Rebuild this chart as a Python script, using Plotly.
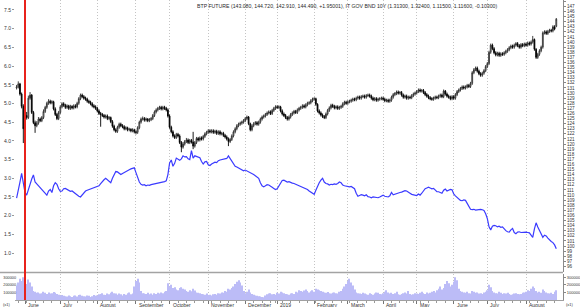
import pandas as pd
import plotly.graph_objects as go

# ---------------- data ----------------
START = "2018-05-25"
HOLIDAYS = ["2018-12-25", "2018-12-26", "2019-01-01", "2019-04-19", "2019-04-22", "2019-05-01"]
MARKER_DATE = "2018-06-01"

TITLE = ("BTP FUTURE (143.080, 144.720, 142.910, 144.490, +1.95001), "
         "IT GOV BND 10Y (1.31300, 1.32400, 1.11500, 1.11600, -0.10300)")

OPEN = [
131.0, 131.2, 131.8, 129.8, 127.4, 123.0, 125.6, 125.2, 129.0, 129.6,
126.2, 124.2, 123.6, 124.1, 124.9, 124.6, 125.2, 126.4, 127.2, 128.0,
128.4, 128.1, 128.3, 126.9, 125.8, 125.0, 126.2, 127.3, 127.9, 127.6,
127.2, 127.5, 127.0, 127.4, 127.1, 127.5, 127.3, 128.0, 128.9, 129.6,
129.3, 129.0, 128.8, 128.4, 128.2, 127.9, 127.5, 127.3, 127.0, 126.5,
126.0, 125.8, 125.6, 125.3, 125.5, 125.0, 125.2, 124.4, 123.5, 122.8,
122.5, 123.3, 123.9, 123.6, 123.4, 123.0, 123.2, 122.8, 122.9, 122.6,
122.8, 122.4, 122.3, 123.2, 124.3, 124.9, 125.0, 124.7, 124.9, 124.6,
124.8, 125.0, 125.6, 126.3, 126.7, 127.0, 127.2, 126.9, 127.2, 127.0,
126.7, 125.5, 123.3, 122.4, 121.6, 121.3, 121.9, 121.6, 120.3, 119.4,
120.0, 120.5, 120.8, 120.3, 120.7, 120.4, 119.6, 120.3, 121.1, 120.8,
121.2, 121.0, 121.5, 122.0, 122.3, 122.6, 122.4, 122.6, 122.3, 122.5,
122.1, 122.4, 122.0, 122.1, 121.7, 121.4, 121.0, 120.5, 120.9, 121.6,
122.4, 123.0, 123.6, 123.9, 124.1, 124.3, 124.6, 125.0, 125.3, 124.0,
122.8, 123.6, 124.0, 124.2, 123.9, 124.3, 124.9, 125.3, 125.5, 125.8,
126.1, 126.3, 126.0, 126.6, 127.0, 127.3, 127.2, 127.3, 126.5, 125.9,
125.6, 125.2, 124.9, 125.3, 125.8, 126.1, 126.4, 126.2, 126.7, 127.0,
127.2, 127.5, 127.3, 127.7, 128.0, 128.1, 128.5, 128.8, 128.9, 127.8,
126.5, 126.1, 125.7, 125.4, 125.2, 125.9, 126.6, 127.1, 127.6, 127.4,
127.1, 127.3, 127.0, 127.2, 127.4, 127.9, 128.2, 128.0, 128.3, 128.4,
128.6, 128.8, 128.7, 129.0, 129.2, 129.0, 129.3, 129.4, 129.2, 129.5,
129.6, 129.4, 129.0, 128.7, 128.9, 128.6, 128.8, 128.9, 129.0, 128.8,
128.5, 128.6, 128.4, 128.6, 129.2, 129.7, 129.9, 130.2, 130.0, 130.1,
129.6, 129.2, 129.4, 129.0, 129.2, 129.1, 129.5, 129.8, 130.0, 130.3,
130.6, 130.4, 130.5, 130.1, 129.7, 129.4, 129.1, 128.9, 128.8, 129.0,
129.2, 129.1, 129.4, 129.6, 129.3, 130.4, 129.8, 129.4, 129.2, 128.9,
129.3, 129.0, 129.7, 130.3, 130.6, 130.9, 131.2, 131.0, 131.2, 131.5,
131.3, 131.9, 134.0, 134.6, 134.9, 134.3, 133.8, 133.5, 133.9, 134.4,
135.2, 135.8, 138.0, 139.4, 138.7, 137.9, 137.5, 137.8, 137.4, 137.7,
137.6, 137.9, 138.2, 138.5, 138.9, 139.2, 139.0, 139.4, 139.7, 139.3,
139.0, 139.5, 139.3, 139.6, 139.4, 139.8, 139.6, 140.0, 140.5, 138.6,
137.0, 137.6, 138.3, 139.0, 141.8, 142.0, 141.7, 142.1, 142.3, 142.2,
143.0, 143.08,
]

HIGH = [
131.6, 132.3, 132.0, 130.1, 127.8, 126.0, 126.3, 129.5, 130.2, 129.8,
126.5, 124.6, 124.5, 125.3, 125.2, 125.5, 126.8, 127.5, 128.3, 128.8,
128.7, 128.6, 128.5, 127.2, 126.1, 126.5, 127.6, 128.2, 128.2, 127.9,
127.8, 127.7, 127.7, 127.6, 127.8, 127.8, 128.3, 129.2, 129.9, 129.9,
129.6, 129.3, 129.1, 128.7, 128.5, 128.2, 127.8, 127.6, 127.3, 126.8,
126.3, 126.1, 125.9, 125.8, 125.8, 125.5, 125.4, 124.7, 123.8, 123.1,
123.6, 124.2, 124.2, 123.9, 123.7, 123.5, 123.4, 123.2, 123.1, 123.1,
123.0, 122.7, 123.5, 124.6, 125.2, 125.4, 125.3, 125.2, 125.1, 125.1,
125.3, 125.9, 126.6, 127.0, 127.3, 127.5, 127.5, 127.5, 127.5, 127.3,
127.0, 125.8, 123.6, 122.7, 121.9, 122.2, 122.2, 121.9, 120.6, 120.4,
120.8, 121.2, 121.1, 121.0, 121.0, 122.4, 120.6, 121.4, 121.4, 121.5,
121.5, 121.8, 122.3, 122.6, 122.9, 122.9, 122.9, 122.9, 122.8, 122.8,
122.7, 122.7, 122.4, 122.4, 122.0, 121.7, 121.3, 121.2, 121.9, 122.7,
123.3, 123.9, 124.2, 124.4, 124.6, 124.9, 125.3, 125.6, 125.5, 124.2,
123.9, 124.3, 124.5, 124.5, 124.6, 125.2, 125.6, 125.8, 126.1, 126.4,
126.6, 126.6, 126.9, 127.3, 127.6, 127.6, 127.6, 127.5, 126.8, 126.2,
125.9, 125.5, 125.6, 126.1, 126.4, 126.7, 126.7, 127.0, 127.3, 127.5,
127.8, 127.8, 128.0, 128.3, 128.4, 128.8, 129.1, 129.2, 129.1, 128.0,
126.8, 126.4, 126.0, 125.7, 126.2, 126.9, 127.4, 127.9, 127.9, 127.7,
127.6, 127.6, 127.5, 127.7, 128.2, 128.5, 128.5, 128.6, 128.7, 128.9,
129.1, 129.1, 129.3, 129.5, 129.5, 129.6, 129.7, 129.7, 129.8, 129.9,
129.9, 129.7, 129.3, 129.2, 129.2, 129.1, 129.2, 129.3, 129.3, 129.1,
128.9, 128.9, 128.9, 129.5, 130.0, 130.2, 130.5, 130.5, 130.4, 130.4,
129.9, 129.7, 129.7, 129.5, 129.5, 129.8, 130.1, 130.3, 130.6, 130.9,
130.9, 130.8, 130.8, 130.4, 130.0, 129.7, 129.4, 129.2, 129.3, 129.5,
129.5, 129.7, 129.9, 129.9, 130.7, 130.6, 130.1, 129.7, 129.5, 129.6,
129.6, 130.0, 130.6, 130.9, 131.2, 131.5, 131.5, 131.5, 131.8, 131.8,
132.2, 134.3, 134.9, 135.2, 135.2, 134.6, 134.1, 134.2, 134.7, 135.5,
136.1, 138.3, 139.7, 139.7, 139.0, 138.2, 138.1, 138.1, 138.0, 138.0,
138.2, 138.5, 138.8, 139.2, 139.5, 139.5, 139.7, 140.0, 140.0, 139.6,
139.8, 139.8, 139.9, 139.9, 140.1, 140.1, 140.3, 141.2, 140.7, 138.8,
137.9, 138.6, 139.3, 142.1, 142.3, 142.3, 142.4, 142.6, 142.6, 143.3,
143.3, 144.72,
]

LOW = [
130.7, 130.9, 129.5, 127.0, 120.2, 122.7, 124.8, 124.9, 128.7, 125.9,
123.9, 122.2, 123.3, 123.8, 124.3, 124.3, 124.9, 126.1, 126.9, 127.7,
127.8, 127.8, 126.6, 125.5, 124.7, 124.7, 125.9, 127.0, 127.3, 126.9,
126.9, 126.7, 126.7, 126.8, 126.8, 127.0, 127.0, 127.7, 128.6, 129.0,
128.7, 128.5, 128.1, 127.9, 127.6, 127.2, 127.0, 126.7, 126.2, 125.7,
123.4, 125.3, 125.0, 125.0, 124.7, 124.7, 124.1, 123.2, 122.5, 122.2,
122.2, 123.0, 123.3, 123.1, 122.7, 122.7, 122.5, 122.5, 122.3, 122.3,
122.1, 121.9, 122.0, 122.9, 124.0, 124.6, 124.4, 124.4, 124.3, 124.3,
124.5, 124.7, 125.3, 126.0, 126.4, 126.7, 126.6, 126.6, 126.7, 126.4,
125.2, 123.0, 122.1, 121.3, 121.0, 121.0, 121.3, 120.0, 118.4, 119.1,
119.7, 120.2, 120.0, 120.0, 120.1, 119.0, 119.3, 120.0, 120.5, 120.5,
120.7, 120.7, 121.2, 121.7, 122.0, 122.1, 122.1, 122.0, 122.0, 121.8,
121.8, 121.7, 121.7, 121.4, 121.1, 120.7, 119.6, 120.2, 120.6, 121.3,
122.1, 122.7, 123.3, 123.6, 123.8, 124.0, 124.3, 124.7, 123.7, 122.5,
122.5, 123.3, 123.7, 123.6, 123.6, 124.0, 124.6, 125.0, 125.2, 125.5,
125.8, 125.7, 125.7, 126.3, 126.7, 126.9, 126.9, 126.2, 125.6, 125.3,
124.9, 124.6, 124.6, 125.0, 125.5, 125.8, 125.9, 125.9, 126.4, 126.7,
126.9, 127.0, 127.0, 127.4, 127.7, 127.8, 128.2, 128.5, 127.5, 126.2,
125.8, 125.4, 125.1, 124.9, 124.9, 125.6, 126.3, 126.8, 127.1, 126.8,
126.8, 126.7, 126.7, 126.9, 127.1, 127.6, 127.7, 127.7, 128.0, 128.1,
128.3, 128.4, 128.4, 128.7, 128.7, 128.7, 129.0, 128.9, 128.9, 129.2,
129.1, 128.7, 128.4, 128.4, 128.3, 128.3, 128.5, 128.6, 128.5, 128.2,
128.2, 128.1, 128.1, 128.3, 128.9, 129.4, 129.6, 129.7, 129.7, 129.3,
128.9, 128.9, 128.7, 128.7, 128.8, 128.8, 129.2, 129.5, 129.7, 130.0,
130.1, 130.1, 129.8, 129.4, 129.1, 128.8, 128.6, 128.5, 128.5, 128.7,
128.8, 128.8, 129.1, 129.0, 129.0, 129.5, 129.1, 128.9, 128.6, 128.6,
128.7, 128.7, 129.4, 130.0, 130.3, 130.6, 130.7, 130.7, 130.9, 131.0,
131.0, 131.6, 133.7, 134.3, 134.0, 133.5, 133.2, 133.2, 133.6, 134.1,
134.9, 135.5, 137.7, 138.4, 137.6, 137.2, 137.2, 137.1, 137.1, 137.3,
137.3, 137.6, 137.9, 138.2, 138.6, 138.7, 138.7, 139.1, 139.0, 138.7,
138.7, 139.0, 139.0, 139.1, 139.1, 139.3, 139.3, 139.7, 138.3, 136.7,
136.7, 137.3, 138.0, 138.7, 141.5, 141.4, 141.4, 141.8, 141.9, 141.9,
142.3, 142.91,
]

CLOSE = [
131.2, 131.8, 129.8, 127.4, 123.0, 125.6, 125.2, 129.0, 129.6, 126.2,
124.2, 123.6, 124.1, 124.9, 124.6, 125.2, 126.4, 127.2, 128.0, 128.4,
128.1, 128.3, 126.9, 125.8, 125.0, 126.2, 127.3, 127.9, 127.6, 127.2,
127.5, 127.0, 127.4, 127.1, 127.5, 127.3, 128.0, 128.9, 129.6, 129.3,
129.0, 128.8, 128.4, 128.2, 127.9, 127.5, 127.3, 127.0, 126.5, 126.0,
125.8, 125.6, 125.3, 125.5, 125.0, 125.2, 124.4, 123.5, 122.8, 122.5,
123.3, 123.9, 123.6, 123.4, 123.0, 123.2, 122.8, 122.9, 122.6, 122.8,
122.4, 122.3, 123.2, 124.3, 124.9, 125.0, 124.7, 124.9, 124.6, 124.8,
125.0, 125.6, 126.3, 126.7, 127.0, 127.2, 126.9, 127.2, 127.0, 126.7,
125.5, 123.3, 122.4, 121.6, 121.3, 121.9, 121.6, 120.3, 119.4, 120.0,
120.5, 120.8, 120.3, 120.7, 120.4, 119.6, 120.3, 121.1, 120.8, 121.2,
121.0, 121.5, 122.0, 122.3, 122.6, 122.4, 122.6, 122.3, 122.5, 122.1,
122.4, 122.0, 122.1, 121.7, 121.4, 121.0, 120.5, 120.9, 121.6, 122.4,
123.0, 123.6, 123.9, 124.1, 124.3, 124.6, 125.0, 125.3, 124.0, 122.8,
123.6, 124.0, 124.2, 123.9, 124.3, 124.9, 125.3, 125.5, 125.8, 126.1,
126.3, 126.0, 126.6, 127.0, 127.3, 127.2, 127.3, 126.5, 125.9, 125.6,
125.2, 124.9, 125.3, 125.8, 126.1, 126.4, 126.2, 126.7, 127.0, 127.2,
127.5, 127.3, 127.7, 128.0, 128.1, 128.5, 128.8, 128.9, 127.8, 126.5,
126.1, 125.7, 125.4, 125.2, 125.9, 126.6, 127.1, 127.6, 127.4, 127.1,
127.3, 127.0, 127.2, 127.4, 127.9, 128.2, 128.0, 128.3, 128.4, 128.6,
128.8, 128.7, 129.0, 129.2, 129.0, 129.3, 129.4, 129.2, 129.5, 129.6,
129.4, 129.0, 128.7, 128.9, 128.6, 128.8, 128.9, 129.0, 128.8, 128.5,
128.6, 128.4, 128.6, 129.2, 129.7, 129.9, 130.2, 130.0, 130.1, 129.6,
129.2, 129.4, 129.0, 129.2, 129.1, 129.5, 129.8, 130.0, 130.3, 130.6,
130.4, 130.5, 130.1, 129.7, 129.4, 129.1, 128.9, 128.8, 129.0, 129.2,
129.1, 129.4, 129.6, 129.3, 130.4, 129.8, 129.4, 129.2, 128.9, 129.3,
129.0, 129.7, 130.3, 130.6, 130.9, 131.2, 131.0, 131.2, 131.5, 131.3,
131.9, 134.0, 134.6, 134.9, 134.3, 133.8, 133.5, 133.9, 134.4, 135.2,
135.8, 138.0, 139.4, 138.7, 137.9, 137.5, 137.8, 137.4, 137.7, 137.6,
137.9, 138.2, 138.5, 138.9, 139.2, 139.0, 139.4, 139.7, 139.3, 139.0,
139.5, 139.3, 139.6, 139.4, 139.8, 139.6, 140.0, 140.5, 138.6, 137.0,
137.6, 138.3, 139.0, 141.8, 142.0, 141.7, 142.1, 142.3, 142.2, 143.0,
142.54, 144.49,
]

YIELD_10Y = [
2.47, 2.65, 2.90, 3.13, 2.85, 2.62, 2.55, 2.70, 2.88, 2.98,
3.09, 2.90, 2.85, 2.80, 2.74, 2.70, 2.62, 2.58, 2.55, 2.66,
2.70, 2.62, 2.80, 2.88, 2.84, 2.72, 2.65, 2.66, 2.72, 2.73,
2.71, 2.68, 2.65, 2.66, 2.62, 2.60, 2.55, 2.52, 2.50, 2.56,
2.62, 2.66, 2.68, 2.70, 2.72, 2.74, 2.76, 2.77, 2.79, 2.80,
2.86, 2.92, 2.96, 3.00, 2.96, 2.92, 2.88, 3.00, 3.10, 3.18,
3.17, 3.14, 3.10, 3.13, 3.16, 3.18, 3.20, 3.23, 3.25, 3.26,
3.28, 3.15, 3.00, 2.90, 2.84, 2.82, 2.83, 2.80, 2.82, 2.81,
2.83, 2.84, 2.83, 2.85, 2.85, 2.87, 2.88, 2.90, 2.91, 2.93,
3.10, 3.41, 3.49, 3.32, 3.40, 3.54, 3.50, 3.48, 3.52, 3.60,
3.57, 3.58, 3.52, 3.50, 3.74, 3.54, 3.60, 3.58, 3.56, 3.55,
3.45, 3.38, 3.44, 3.45, 3.36, 3.34, 3.38, 3.41, 3.43, 3.42,
3.47, 3.49, 3.50, 3.50, 3.52, 3.53, 3.60, 3.52, 3.44, 3.38,
3.32, 3.30, 3.28, 3.25, 3.22, 3.20, 3.22, 3.20, 3.17, 3.14,
3.12, 3.10, 3.07, 3.04, 3.00, 2.88, 2.80, 2.77, 2.80, 2.83,
2.82, 2.80, 2.76, 2.73, 2.70, 2.72, 2.80, 2.88, 2.94, 2.95,
2.93, 2.90, 2.91, 2.88, 2.87, 2.86, 2.84, 2.82, 2.80, 2.79,
2.77, 2.75, 2.72, 2.70, 2.66, 2.63, 2.60, 2.57, 2.68, 2.80,
2.88, 2.95, 3.00, 2.90, 2.86, 2.85, 2.82, 2.84, 2.83, 2.85,
2.84, 2.86, 2.90, 2.88, 2.82, 2.80, 2.79, 2.80, 2.77, 2.78,
2.74, 2.72, 2.60, 2.52, 2.54, 2.56, 2.55, 2.53, 2.56, 2.51,
2.50, 2.48, 2.50, 2.49, 2.50, 2.48, 2.50, 2.52, 2.55, 2.52,
2.50, 2.50, 2.53, 2.62, 2.56, 2.58, 2.60, 2.60, 2.62, 2.63,
2.65, 2.67, 2.66, 2.64, 2.60, 2.57, 2.56, 2.55, 2.54, 2.58,
2.55, 2.60, 2.68, 2.72, 2.74, 2.76, 2.74, 2.72, 2.73, 2.67,
2.64, 2.64, 2.63, 2.60, 2.68, 2.71, 2.66, 2.68, 2.70, 2.69,
2.58, 2.53, 2.48, 2.44, 2.41, 2.40, 2.42, 2.41, 2.32, 2.24,
2.17, 2.16, 2.17, 2.15, 2.16, 2.15, 2.17, 2.16, 2.14, 2.05,
1.92, 1.70, 1.62, 1.72, 1.74, 1.73, 1.70, 1.72, 1.69, 1.70,
1.64, 1.60, 1.57, 1.56, 1.62, 1.66, 1.55, 1.52, 1.56, 1.57,
1.55, 1.56, 1.57, 1.56, 1.55, 1.54, 1.48, 1.42, 1.65, 1.81,
1.70, 1.60, 1.50, 1.42, 1.48, 1.46, 1.40, 1.34, 1.31, 1.28,
1.219, 1.116,
]

VOLUME_K = [
190, 230, 280, 250, 300, 240, 210, 270, 230, 180,
120, 110, 95, 100, 85, 90, 110, 95, 80, 100,
85, 90, 105, 95, 80, 70, 60, 65, 55, 50,
45, 60, 50, 40, 55, 60, 45, 65, 70, 55,
50, 45, 60, 55, 40, 50, 65, 55, 60, 75,
80, 90, 70, 65, 85, 75, 95, 110, 90, 85,
70, 85, 75, 60, 80, 70, 90, 100, 75, 85,
180, 250, 280, 230, 120, 90, 85, 80, 95, 75,
85, 70, 90, 80, 95, 85, 100, 90, 110, 120,
220, 180, 200, 160, 170, 140, 130, 160, 170, 150,
140, 120, 110, 130, 115, 150, 125, 100, 95, 90,
80, 75, 70, 85, 65, 70, 60, 75, 80, 70,
90, 85, 100, 95, 120, 110, 150, 140, 160, 180,
210, 240, 260, 230, 190, 120, 90, 110, 140, 100,
80, 70, 60, 55, 50, 45, 40, 35, 60, 75,
85, 90, 75, 80, 70, 95, 85, 110, 100, 90,
80, 75, 70, 85, 90, 80, 110, 100, 130, 120,
110, 125, 140, 120, 100, 115, 130, 110, 150, 140,
130, 120, 110, 100, 95, 105, 90, 85, 95, 100,
90, 85, 110, 120, 150, 180, 210, 250, 280, 230,
190, 140, 100, 90, 85, 80, 95, 85, 75, 70,
90, 80, 70, 85, 100, 95, 80, 75, 90, 110,
130, 100, 85, 95, 80, 90, 110, 75, 70, 80,
90, 100, 85, 120, 80, 70, 75, 90, 85, 80,
95, 110, 90, 80, 100, 85, 95, 110, 120, 100,
130, 150, 180, 140, 160, 210, 250, 220, 180, 200,
240, 300, 260, 150, 120, 110, 100, 95, 110, 90,
85, 120, 110, 95, 100, 85, 90, 80, 100, 110,
130, 200, 170, 120, 100, 90, 85, 110, 95, 80,
90, 85, 95, 80, 70, 75, 85, 90, 80, 75,
80, 95, 100, 110, 130, 120, 150, 180, 160, 120,
100, 110, 95, 140, 120, 100, 90, 85, 95, 80,
110, 130,
]

YIELD_TICKS = [1.0, 1.5, 2.0, 2.5, 3.0, 3.5, 4.0, 4.5, 5.0, 5.5, 6.0, 6.5, 7.0, 7.5]
PRICE_TICKS = list(range(96, 149))
VOLUME_TICKS = [100000, 200000, 300000]

# ---------------- trading-day axis ----------------
n = len(CLOSE)
dates = pd.date_range(START, periods=n, freq=pd.offsets.CustomBusinessDay(holidays=HOLIDAYS))
idx = list(range(n))

month_idx, month_lbl = [], []
for i in range(1, n):
    if dates[i].month != dates[i - 1].month:
        month_idx.append(i)
        month_lbl.append(str(dates[i].year) if dates[i].month == 1 else dates[i].strftime("%B"))
week_idx = [i for i in range(1, n) if dates[i].weekday() < dates[i - 1].weekday()]
marker_i = int(dates.get_loc(pd.Timestamp(MARKER_DATE)))

XR = [-0.95, 325.0]
MAIN_DOM = [0.0917, 1.0]
VOL_DOM = [0.0, 0.0883]
GRID = "#c4c4c4"
GRID_DASH = "1px,2px"
TXT = "#333333"

fig = go.Figure()
fig.add_trace(go.Bar(
    x=idx, y=[v * 1000 for v in VOLUME_K], xaxis="x2", yaxis="y3",
    marker=dict(color="#bcbcf7", line=dict(width=0)), width=0.62, hoverinfo="skip"))
fig.add_trace(go.Scatter(
    x=idx, y=[v * 1000 for v in VOLUME_K], xaxis="x2", yaxis="y4",
    mode="markers", marker=dict(opacity=0, size=1), hoverinfo="skip"))
fig.add_trace(go.Scatter(
    x=idx, y=YIELD_10Y, xaxis="x", yaxis="y", mode="lines",
    line=dict(color="#3b3bff", width=1.2), name="IT GOV BND 10Y"))
fig.add_trace(go.Candlestick(
    x=idx, open=OPEN, high=HIGH, low=LOW, close=CLOSE, xaxis="x", yaxis="y2",
    increasing=dict(line=dict(color="#2e2e2e", width=0.9), fillcolor="#e6e6e6"),
    decreasing=dict(line=dict(color="#000000", width=0.9), fillcolor="#000000"),
    whiskerwidth=0, name="BTP FUTURE"))

axis_font = dict(family="Liberation Sans, Arial, sans-serif", color=TXT)

fig.update_layout(
    template="none",
    width=580, height=307,
    margin=dict(l=15, r=17, t=0, b=7),
    paper_bgcolor="white", plot_bgcolor="white",
    showlegend=False,
    font=dict(family="Liberation Sans, Arial, sans-serif", size=5, color=TXT),
    xaxis=dict(domain=[0, 1], anchor="y", range=XR, showticklabels=False,
               tickmode="array", tickvals=month_idx, ticks="",
               showgrid=True, gridcolor=GRID, griddash=GRID_DASH, gridwidth=1,
               zeroline=False, showline=False, rangeslider=dict(visible=False)),
    xaxis2=dict(domain=[0, 1], anchor="y3", range=XR, matches="x", showticklabels=False,
                tickmode="array", tickvals=month_idx, ticks="outside", ticklen=3,
                tickcolor="#777", tickwidth=1,
                showgrid=True, gridcolor=GRID, griddash=GRID_DASH, gridwidth=1,
                zeroline=False, showline=True, linecolor="#a0a0a0", linewidth=1,
                minor=dict(tickmode="array", tickvals=week_idx, ticks="outside",
                           ticklen=2, tickcolor="#999", showgrid=False)),
    yaxis=dict(domain=MAIN_DOM, anchor="x", range=[0.481, 7.767],
               tickmode="array", tickvals=YIELD_TICKS, tickformat=".1f",
               ticks="outside", ticklen=2, tickcolor="#999",
               tickfont=dict(size=5, **axis_font),
               showgrid=False, zeroline=False, showline=False),
    yaxis2=dict(domain=MAIN_DOM, anchor="x", overlaying="y", side="right",
                range=[94.82, 148.25], tickmode="array", tickvals=PRICE_TICKS,
                ticks="outside", ticklen=2, tickcolor="#888",
                tickfont=dict(size=4.6, **axis_font),
                showgrid=False, zeroline=False, showline=True,
                linecolor="#8a8a8a", linewidth=1),
    yaxis3=dict(domain=VOL_DOM, anchor="x2", range=[0, 350000],
                tickmode="array", tickvals=VOLUME_TICKS, tickformat="d",
                ticks="", ticklabelstandoff=-2,
                tickfont=dict(size=3.8, **axis_font),
                showgrid=False, zeroline=False, showline=False),
    yaxis4=dict(domain=VOL_DOM, anchor="x2", overlaying="y3", side="right",
                range=[0, 350000], tickmode="array", tickvals=VOLUME_TICKS,
                tickformat="d", ticks="outside", ticklen=2, tickcolor="#888",
                tickfont=dict(size=4.0, **axis_font),
                showgrid=False, zeroline=False, showline=True,
                linecolor="#8a8a8a", linewidth=1),
)

shapes = [
    dict(type="line", xref="paper", yref="paper", x0=-0.0274, x1=1.0,
         y0=MAIN_DOM[0], y1=MAIN_DOM[0], line=dict(color="#a3a3a3", width=1.6)),
    dict(type="line", xref="x", yref="paper", x0=marker_i, x1=marker_i,
         y0=0, y1=1, line=dict(color="#e8231c", width=2)),
]
fig.update_layout(shapes=shapes)

ann = [dict(text=TITLE, xref="paper", yref="paper", x=0.3285, y=1.0,
            xanchor="left", yanchor="top", yshift=-1, showarrow=False,
            font=dict(size=5.2, color="#2a2a2a"))]
for mi, ml in zip(month_idx, month_lbl):
    ann.append(dict(text=ml, xref="x", yref="paper", x=mi, y=0,
                    xanchor="left", yanchor="top", xshift=1, yshift=0,
                    showarrow=False, font=dict(size=5, color=TXT)))
ann.append(dict(text="(x1)", xref="paper", yref="paper", x=-0.026, y=0.0,
                xanchor="left", yanchor="top", yshift=0, showarrow=False,
                font=dict(size=4.0, color=TXT)))
ann.append(dict(text="(x1)", xref="paper", yref="paper", x=1.002, y=0.0,
                xanchor="left", yanchor="top", showarrow=False,
                font=dict(size=4.0, color=TXT)))
fig.update_layout(annotations=ann)

fig.write_html("out.html")
